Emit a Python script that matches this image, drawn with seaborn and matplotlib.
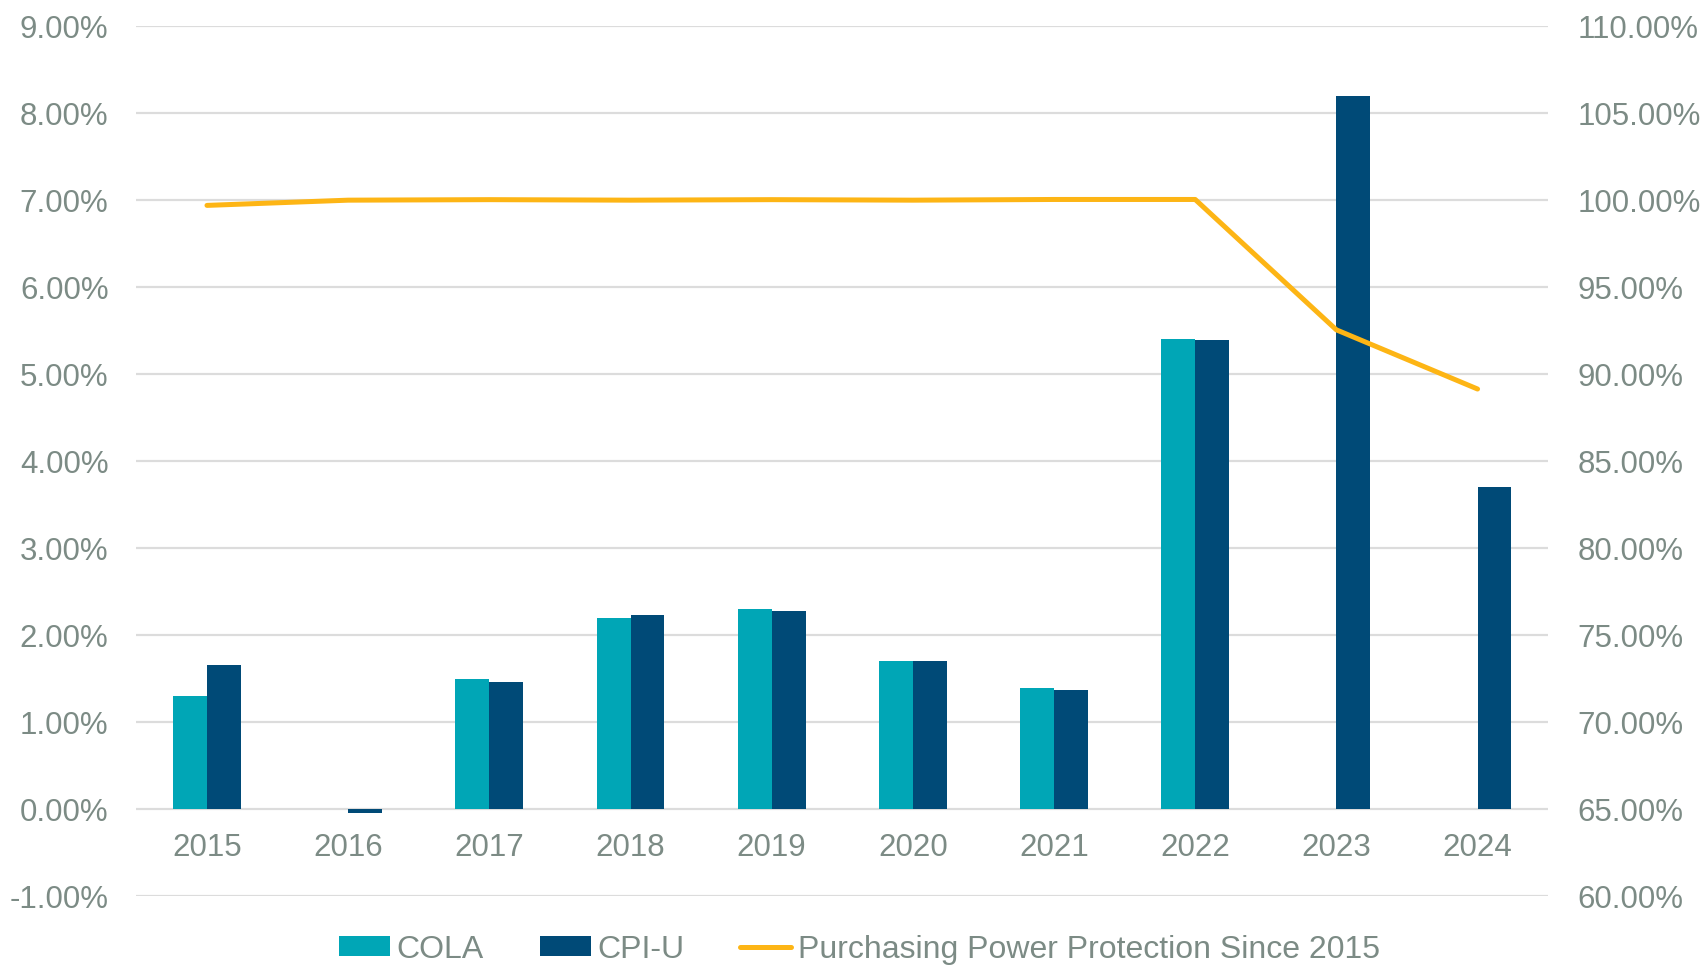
# -*- coding: utf-8 -*-
# COLA vs CPI-U with purchasing power line (twin axis)

import matplotlib
matplotlib.use("Agg")
import matplotlib.pyplot as plt
from matplotlib.patches import Patch
from matplotlib.lines import Line2D
import numpy as np
import pandas as pd
import seaborn as sns

# data
years = ["2015", "2016", "2017", "2018", "2019", "2020", "2021", "2022", "2023", "2024"]
cola = [1.30, 0.00, 1.50, 2.20, 2.30, 1.70, 1.40, 5.40, 0.00, 0.00]
cpi_u = [1.66, -0.04, 1.46, 2.23, 2.28, 1.71, 1.37, 5.39, 8.20, 3.70]
power = [99.7, 100.0, 100.03, 100.0, 100.03, 100.0, 100.04, 100.04, 92.55, 89.15]

left_ticks = list(range(-1, 10))
right_ticks = list(range(60, 111, 5))

teal = "#00A6B6"
navy = "#004A77"
gold = "#FDB515"
grey_txt = "#7C8B85"
grid_col = "#DCDCDC"

sns.set_theme(style="white")
plt.rcParams["font.family"] = ["Liberation Sans", "DejaVu Sans"]

frame = pd.DataFrame({
    "year": years * 2,
    "value": cola + cpi_u,
    "series": ["COLA"] * len(years) + ["CPI-U"] * len(years),
})

fig = plt.figure(figsize=(17.05, 9.67), dpi=100)
ax = fig.add_axes([0.080, 0.073, 0.828, 0.900])

sns.barplot(data=frame, x="year", y="value", hue="series", order=years,
            palette={"COLA": teal, "CPI-U": navy}, width=0.48, ax=ax,
            saturation=1, linewidth=0, legend=False, errorbar=None)

ax.set_ylim(-1, 9)
ax.set_xlim(-0.5, len(years) - 0.5)
ax.set_yticks(left_ticks)
ax.set_yticklabels(["{:.2f}%".format(t) for t in left_ticks])
ax.set_axisbelow(True)
ax.yaxis.grid(True, color=grid_col, linewidth=1.6)
ax.xaxis.grid(False)
ax.set_xlabel("")
ax.set_ylabel("")
for s in ax.spines.values():
    s.set_visible(False)
# category labels sit under the zero line, like Excel does it
ax.spines["bottom"].set_position(("data", 0))
ax.tick_params(axis="x", length=0, pad=17, labelsize=22.5, labelcolor=grey_txt)
ax.tick_params(axis="y", length=0, pad=20, labelsize=22.5, labelcolor=grey_txt)

# right axis: purchasing power line
ax2 = ax.twinx()
line_df = pd.DataFrame({"pos": np.arange(len(years)), "power": power})
sns.lineplot(data=line_df, x="pos", y="power", ax=ax2, color=gold,
             linewidth=3.6, solid_capstyle="round", solid_joinstyle="round")
ax2.set_ylim(60, 110)
ax2.set_xlim(-0.5, len(years) - 0.5)
ax2.set_yticks(right_ticks)
ax2.set_yticklabels(["{:.2f}%".format(t) for t in right_ticks])
ax2.set_ylabel("")
ax2.grid(False)
for s in ax2.spines.values():
    s.set_visible(False)
ax2.tick_params(axis="y", length=0, pad=21, labelsize=22.5, labelcolor=grey_txt)

handles = [
    Patch(facecolor=teal, edgecolor="none"),
    Patch(facecolor=navy, edgecolor="none"),
    Line2D([0], [0], color=gold, linewidth=3.6, solid_capstyle="round"),
]
labels = ["COLA", "CPI-U", "Purchasing Power Protection Since 2015"]
fig.legend(handles, labels, loc="center", bbox_to_anchor=(0.504, 0.018), ncol=3,
           frameon=False, fontsize=23, labelcolor=grey_txt, handlelength=1.6,
           handleheight=0.6, handletextpad=0.2, columnspacing=1.75)

fig.savefig("out.png", dpi=100)
